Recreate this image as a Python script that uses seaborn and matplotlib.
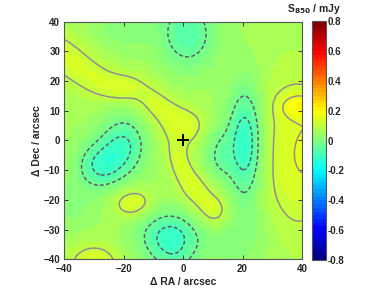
import numpy as np
import matplotlib
matplotlib.use('Agg')
import matplotlib.pyplot as plt
import seaborn as sns
from matplotlib.colors import LinearSegmentedColormap

# S850 map, read off the picture as a baseline plus smooth components
# (positions / widths in arcsec, amplitudes in mJy)
baseline = 0.055

# isolated blobs (holes and bumps)
blob_x   = [1.5, -28.0, -20.0, 21.0, 12.0, -4.5, -3.0, 18.0, -38.0, -20.0,
            -17.0, -30.0, 38.0, 39.5, 43.0, 2.5, 12.0]
blob_y   = [36.0, -8.5, -1.5, -1.0, -5.0, -32.3, -41.0, -32.0, -22.0, 40.0,
            -21.0, -42.0, -5.0, 11.5, -3.0, 5.0, -23.5]
blob_amp = [-0.12, -0.14, -0.14, -0.19, -0.08, -0.16, -0.05, -0.05, -0.04, -0.05,
            0.095, 0.10, 0.095, 0.083, 0.03, 0.032, 0.03]
blob_sx  = [6.9, 5.5, 5.5, 4.2, 3.5, 7.2, 5.0, 8.0, 6.0, 7.0,
            4.7, 6.0, 9.0, 5.0, 3.0, 4.2, 3.5]
blob_sy  = [8.7, 5.5, 7.0, 13.0, 7.0, 5.9, 5.0, 8.0, 6.0, 7.0,
            3.5, 5.0, 20.0, 3.0, 8.0, 3.5, 3.5]

# the bright ridge running from the top left down past the centre
ridge_x   = [-46, -41, -36, -31, -26.5, -22.5, -18.5, -14.5, -11, -7.5, -4, 1,
             -2.5, -2, -1.2, 0, 1.5, 3.3, 5.5, 8.5, 10.5]
ridge_y   = [32.5, 29, 25.3, 21.5, 18.8, 17.5, 17.5, 18, 13.5, 10.5, 8, 5.5,
             0, -4.5, -8, -10.5, -13, -15.5, -18.5, -21, -26]
ridge_s   = [5.2, 5.2, 5.4, 5.3, 4.6, 3.6, 3.6, 4.8, 3.8, 4.0, 4.5, 5.2,
             4.8, 3.0, 2.6, 2.6, 3.0, 3.2, 4.5, 5.0, 4.0]
ridge_amp = [0.038, 0.038, 0.037, 0.036, 0.034, 0.032, 0.032, 0.032, 0.034, 0.033, 0.032, 0.032,
             0.032, 0.033, 0.033, 0.033, 0.033, 0.033, 0.034, 0.042, 0.040]

neg_levels = [-0.085, -0.025]
pos_levels = [0.105, 0.155]
x_ticks = [-40, -20, 0, 20, 40]
y_ticks = [-40, -30, -20, -10, 0, 10, 20, 30, 40]
cbar_ticks = [-0.8, -0.6, -0.4, -0.2, 0, 0.2, 0.4, 0.6, 0.8]
cbar_labels = ['-0.8', '-0.6', '-0.4', '-0.2', '0', '0.2', '0.4', '0.6', '0.8']


def flux(xx, yy):
    z = np.full_like(xx, baseline)
    for x0, y0, a, sx, sy in zip(blob_x, blob_y, blob_amp, blob_sx, blob_sy):
        z += a * np.exp(-((xx - x0) ** 2 / (2 * sx ** 2) + (yy - y0) ** 2 / (2 * sy ** 2)))
    for x0, y0, a, s in zip(ridge_x, ridge_y, ridge_amp, ridge_s):
        z += a * np.exp(-((xx - x0) ** 2 + (yy - y0) ** 2) / (2 * s ** 2))
    return z


sns.set_theme(style='ticks')
plt.rcParams['font.family'] = ['Liberation Sans', 'DejaVu Sans']
plt.rcParams['font.weight'] = 'bold'
plt.rcParams['axes.labelweight'] = 'bold'

# matlab style jet, 64 steps
jet = LinearSegmentedColormap.from_list(
    'mjet', [(0, (0, 0, 0.5)), (0.125, (0, 0, 1)), (0.375, (0, 1, 1)),
             (0.625, (1, 1, 0)), (0.875, (1, 0, 0)), (1, (0.5, 0, 0))], N=64)

# coarse pixels for the image, fine grid for the contours
step = 80 / 60
px = np.linspace(-40, 40, 61)
PX, PY = np.meshgrid(px, px)
fx = np.linspace(-40, 40, 321)
FX, FY = np.meshgrid(fx, fx)

fig = plt.figure(figsize=(3.88, 2.92), dpi=100)
ax = fig.add_axes([0.1657, 0.112, 0.6126, 0.8137])
cax = fig.add_axes([0.804, 0.1096, 0.036, 0.8175])

h = step / 2
im = ax.imshow(flux(PX, PY), extent=[-40 - h, 40 + h, -40 - h, 40 + h], origin='lower',
               cmap=jet, vmin=-0.8, vmax=0.8, interpolation='nearest', aspect='auto')
Z = flux(FX, FY)
ax.contour(FX, FY, Z, levels=neg_levels, colors='#5f5f68', linewidths=1.1,
           linestyles=[(0, (2.5, 1.6))])
ax.contour(FX, FY, Z, levels=pos_levels, colors='#8f8f96', linewidths=1.1,
           linestyles='solid')
ax.plot([0], [0], marker='+', color='black', markersize=9, mew=1.4)

ax.set_xlim(-40, 40)
ax.set_ylim(-40, 40)
ax.set_xticks(x_ticks)
ax.set_yticks(y_ticks)
ax.tick_params(direction='in', length=3, width=0.7, top=True, right=True,
               labelsize=7, color='#333333')
ax.tick_params(axis='x', pad=3.5)
ax.tick_params(axis='y', pad=3)
for lab in ax.get_xticklabels() + ax.get_yticklabels():
    lab.set_fontweight('bold')
for s in ax.spines.values():
    s.set_linewidth(0.8)
    s.set_color('#555555')
ax.set_xlabel('\u0394 RA / arcsec', fontsize=7.5, fontweight='bold', labelpad=2)
ax.set_ylabel('\u0394 Dec / arcsec', fontsize=7.5, fontweight='bold', labelpad=1)

cb = fig.colorbar(im, cax=cax, ticks=cbar_ticks)
cb.ax.tick_params(direction='in', length=2.5, width=0.7, labelsize=7, pad=1.5,
                  color='#333333', left=True)
cb.ax.set_yticklabels(cbar_labels, fontweight='bold')
cb.outline.set_linewidth(0.8)
cb.outline.set_edgecolor('#555555')
fig.text(0.808, 0.968, 'S$_{\\mathbf{850}}$ / mJy', ha='center', va='center',
         fontsize=7.5, fontweight='bold')

fig.savefig('out.png', dpi=100)
